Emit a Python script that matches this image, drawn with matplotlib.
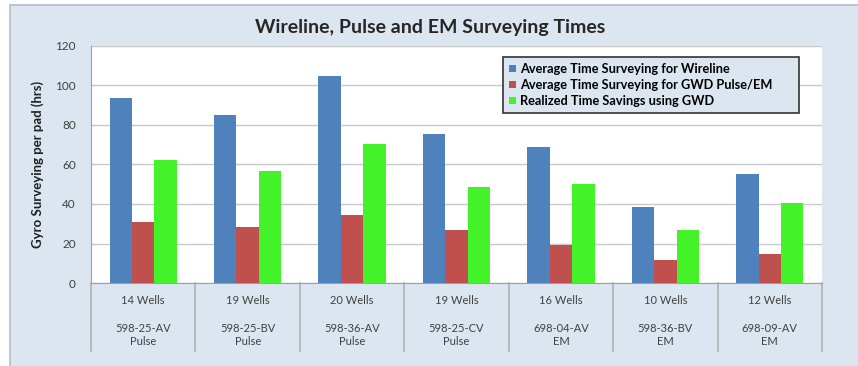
import matplotlib
matplotlib.use("Agg")
import matplotlib.pyplot as plt
import matplotlib.transforms as mtransforms
from matplotlib.patches import Rectangle
import numpy as np

plt.rcParams['font.family'] = ['Lato', 'DejaVu Sans']

# данные по кустам
wells = ['14 Wells', '19 Wells', '20 Wells', '19 Wells', '16 Wells', '10 Wells', '12 Wells']
pads = ['598-25-AV\nPulse', '598-25-BV\nPulse', '598-36-AV\nPulse', '598-25-CV\nPulse',
        '698-04-AV\nEM', '598-36-BV\nEM', '698-09-AV\nEM']
wireline = [93.5, 85, 105, 75.5, 69, 38.5, 55]
gwd = [31, 28.5, 34.5, 27, 19, 11.5, 14.5]
savings = [62.5, 56.5, 70.5, 48.5, 50, 27, 40.5]

W, H = 858, 366
fig = plt.figure(figsize=(W / 100, H / 100), dpi=100)
fig.patch.set_facecolor('white')

# фон области диаграммы
bg = Rectangle((10 / W, -0.05), 1.0, 1 - 5 / H + 0.05, transform=fig.transFigure,
               facecolor='#dce6f1', edgecolor='#b5bcc6', linewidth=1.2, zorder=-10)
fig.patches.append(bg)

ax = fig.add_axes([91 / W, (H - 283) / H, 731 / W, 237 / H])
ax.set_facecolor('white')

x = np.arange(len(wells))
w = 0.215
ax.bar(x - w, wireline, w, color='#4f81bd', label='Average Time Surveying for Wireline', zorder=3)
ax.bar(x, gwd, w, color='#c0504d', label='Average Time Surveying for GWD Pulse/EM', zorder=3)
ax.bar(x + w, savings, w, color='#44f22a', label='Realized Time Savings using GWD', zorder=3)

ax.set_xlim(-0.5, len(wells) - 0.5)
ax.set_ylim(0, 120)
ax.set_yticks(range(0, 121, 20))
ax.tick_params(axis='y', labelsize=8.5, labelcolor='#404040', length=0, pad=11)
ax.set_xticks([])
ax.grid(axis='y', color='#c8c8c8', linewidth=1, zorder=0)
for s in ['top', 'right']:
    ax.spines[s].set_visible(False)
ax.spines['left'].set_color('#a0a0a0')
ax.spines['bottom'].set_color('#a0a0a0')

# подписи категорий и разделители
trans = mtransforms.blended_transform_factory(ax.transData, ax.transAxes)
for k in range(len(wells) + 1):
    ax.plot([k - 0.5, k - 0.5], [0, -68 / 237], transform=trans, color='#b0b0b0',
            linewidth=1.2, clip_on=False)
for i in range(len(wells)):
    ax.text(i, -18 / 237, wells[i], transform=trans, ha='center', va='center',
            fontsize=8, color='#404040')
    ax.text(i, -52 / 237, pads[i], transform=trans, ha='center', va='center',
            fontsize=8, color='#404040', linespacing=1.2)

ax.set_ylabel('Gyro Surveying per pad (hrs)', fontsize=9.5, fontweight='bold', color='#202020',
              labelpad=8)

fig.text(0.501, 1 - 28 / H, 'Wireline, Pulse and EM Surveying Times', ha='center', va='center',
         fontsize=14, fontweight='bold', color='#262626')

leg = ax.legend(loc='upper left', bbox_to_anchor=(412 / 731, 0.0, 296 / 731, 226 / 237),
                mode='expand', prop={'weight': 'bold', 'size': 9.2}, frameon=True,
                fancybox=False, facecolor='#dce6f1', edgecolor='#333333', framealpha=1,
                handlelength=0.55, handleheight=0.5, handletextpad=0.3,
                labelspacing=0.3, borderpad=0.5, borderaxespad=0)
leg.get_frame().set_linewidth(1.2)
leg.set_zorder(5)

fig.savefig('out.png', dpi=100)
